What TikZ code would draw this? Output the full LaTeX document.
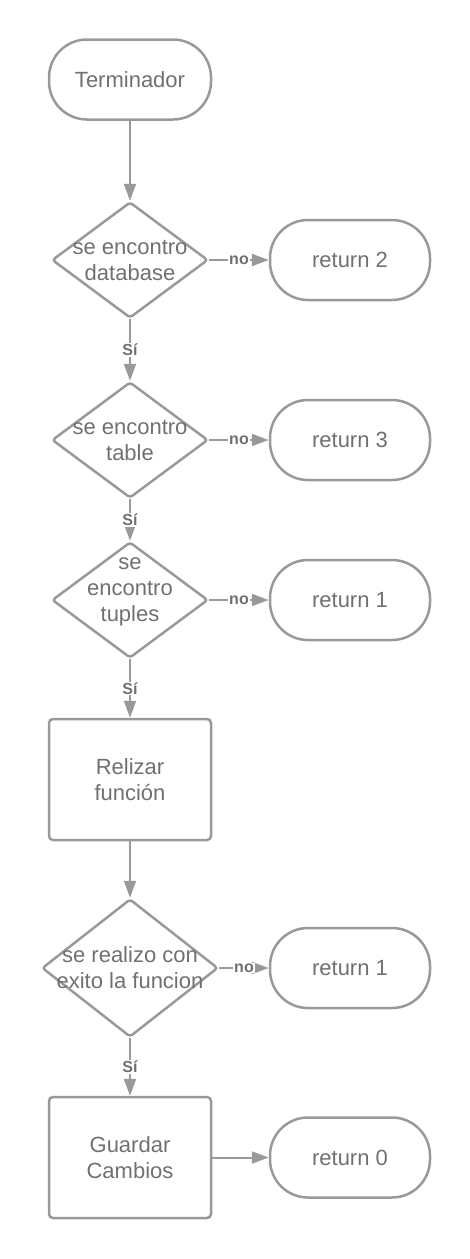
\documentclass[tikz,border=0pt]{standalone}
\usepackage{fontspec}
\setmainfont{Liberation Sans}
\usetikzlibrary{positioning,arrows.meta,shapes.geometric}
\definecolor{linegray}{RGB}{153,153,153}
\definecolor{textgray}{RGB}{112,112,112}

\begin{document}
\begin{tikzpicture}[x=1pt,y=1pt,node distance=180pt and 220pt,on grid,
	every node/.style={text=textgray,font=\fontsize{22}{26}\selectfont},
	every label/.style={align=center},
	base/.style={draw=linegray,line width=2.5pt,align=center},
	term/.style={base,rounded corners=38pt,minimum width=162pt,minimum height=80pt},
	stop/.style={base,rounded corners=38pt,minimum width=160pt,minimum height=80pt},
	decision/.style={base,diamond,rounded corners=3pt,minimum width=156pt,minimum height=116pt},
	process/.style={base,rounded corners=4pt,minimum width=162pt,minimum height=121pt},
	flow/.style={draw=linegray,fill=linegray,line width=2pt,
		-{Triangle[length=17pt,width=12pt,fill=linegray]}},
	tag/.style={fill=white,inner sep=1pt,font=\bfseries\fontsize{16}{19}\selectfont}]
		\useasboundingbox (0,0) rectangle (470,-1259);
		\node[term]		(start)		at (130,-79.5)		{Terminador};
		\node[decision,label={center:se encontro\\database}]	(db)	[below=180.5pt of start]	{};
		\node[decision,label={center:se encontro\\table}]		(tb)	[below=180pt of db]			{};
		\node[decision,label={[yshift=8pt]center:se\\encontro\\tuples}]	(tp)	[below=160pt of tb]	{};
		\node[process]	(run)		[below=179.5pt of tp]	{Relizar\\función};
		\node[decision,minimum width=176pt,minimum height=138pt,
			label={center:se realizo con\\exito la funcion}]	(ok)	[below=188.5pt of run]	{};
		\node[process]	(save)		[below=189.5pt of ok]	{Guardar\\Cambios};
		\node[stop]		(ret2)		[right=of db]		{return 2};
		\node[stop]		(ret3)		[right=of tb]		{return 3};
		\node[stop]		(ret1a)		[right=of tp]		{return 1};
		\node[stop]		(ret1b)		[right=of ok]		{return 1};
		\node[stop]		(ret0)		[right=of save]		{return 0};
		\draw[flow] (start) -- (db);
		\draw[flow] (db) -- node[tag] {Sí} (tb);
		\draw[flow] (db) -- node[tag] {no} (ret2);
		\draw[flow] (tb) -- node[tag] {Sí} (tp);
		\draw[flow] (tb) -- node[tag] {no} (ret3);
		\draw[flow] (tp) -- node[tag] {Sí} (run);
		\draw[flow] (tp) -- node[tag] {no} (ret1a);
		\draw[flow] (run) -- (ok);
		\draw[flow] (ok) -- node[tag] {Sí} (save);
		\draw[flow] (ok) -- node[tag] {no} (ret1b);
		\draw[flow] (save) -- (ret0);
	\end{tikzpicture}
\end{document}
